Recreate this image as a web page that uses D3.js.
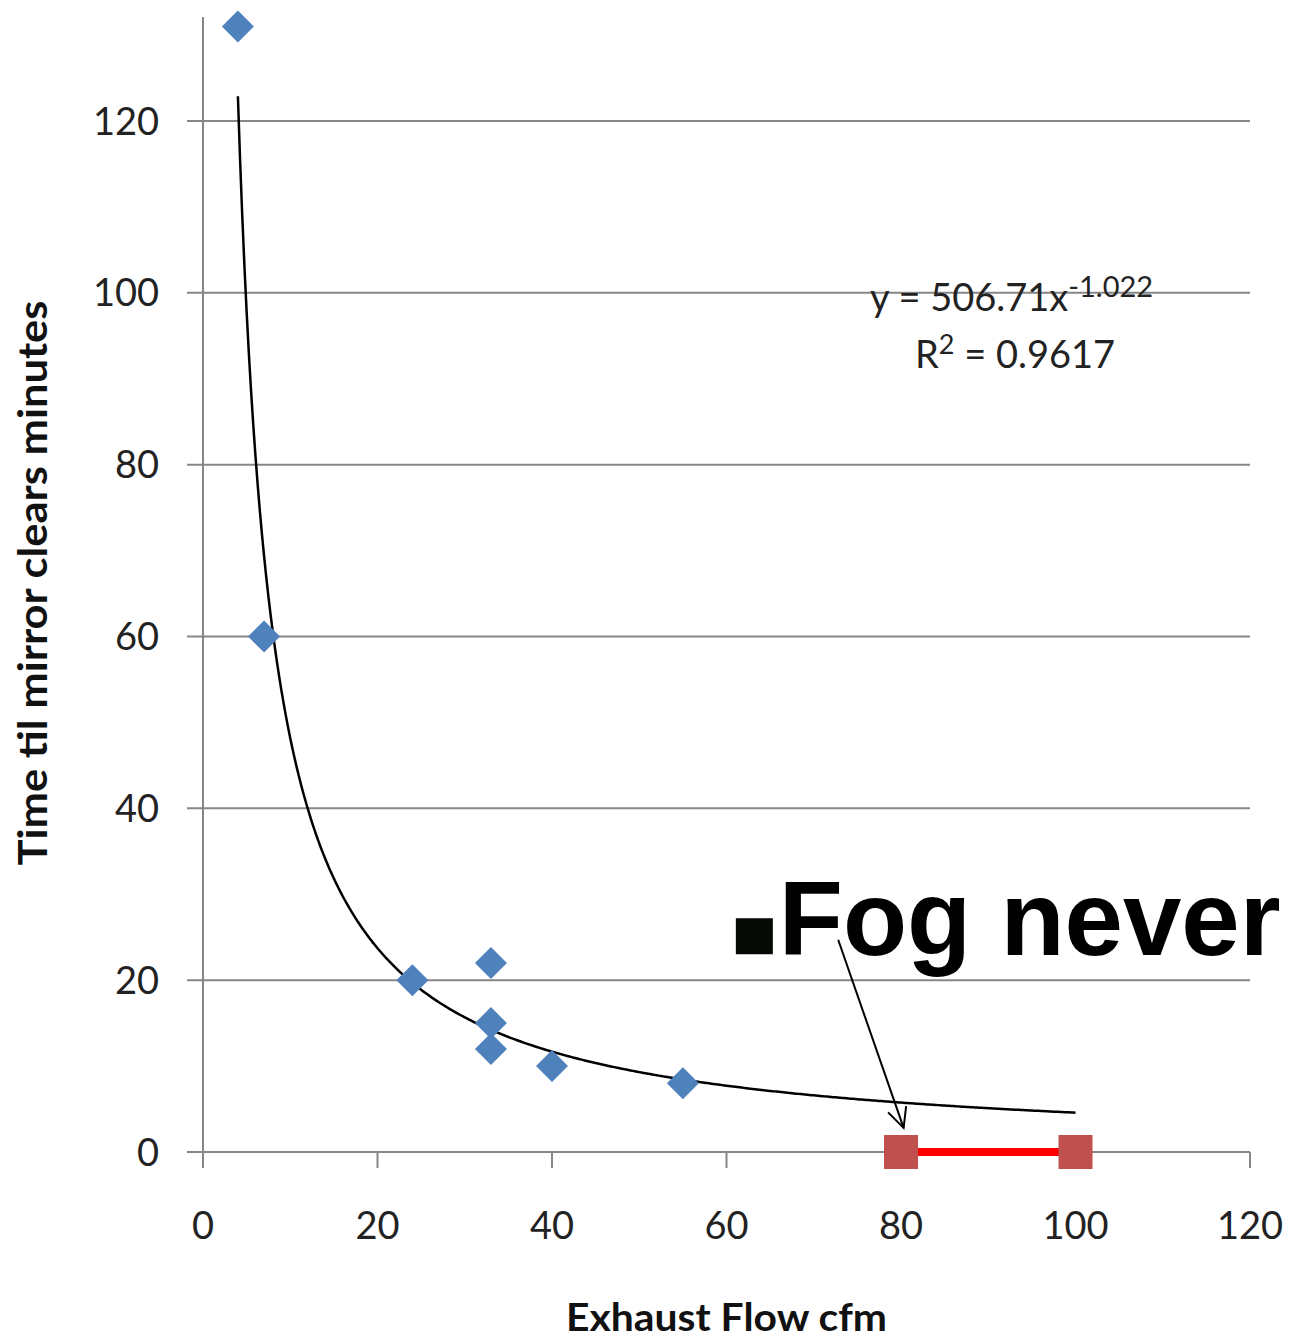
<!DOCTYPE html>
<html>
<head>
<meta charset="utf-8">
<script src="https://cdn.jsdelivr.net/npm/d3@7"></script>
<style>
  body { margin: 0; background: #fff; }
</style>
</head>
<body>
<div id="chart"></div>
<script>
// measured points: exhaust flow (cfm) vs. time until mirror clears (min)
const flow = [4, 7, 24, 33, 33, 33, 40, 55];
const clearTime = [131, 60, 20, 22, 15, 12, 10, 8];

// range where fog never forms
const neverFlow = [80, 100];
const neverTime = [0, 0];

// power trendline as shown on the chart
const trendA = 506.71;
const trendB = -1.022;
const trendR2 = 0.9617;
const trendFrom = 4, trendTo = 100;

const xTicks = [0, 20, 40, 60, 80, 100, 120];
const yTicks = [0, 20, 40, 60, 80, 100, 120];

const width = 1289, height = 1338;
const margin = {top: 17, right: 39, bottom: 186, left: 203};
const labelFont = "Lato, 'Open Sans', sans-serif";

const svg = d3.select("#chart").append("svg")
    .attr("width", width)
    .attr("height", height)
    .attr("font-family", labelFont);

const x = d3.scaleLinear()
    .domain([0, 120])
    .range([margin.left, width - margin.right]);

const y = d3.scaleLinear()
    .domain([0, 132.1])
    .range([height - margin.bottom, margin.top]);

const gridColor = "#868686";

// horizontal gridlines (with the little outside tick)
svg.append("g")
    .selectAll("line")
    .data(yTicks)
    .join("line")
    .attr("x1", x(0) - 16)
    .attr("x2", x(120))
    .attr("y1", d => y(d))
    .attr("y2", d => y(d))
    .attr("stroke", gridColor)
    .attr("stroke-width", 2);

// y axis line
svg.append("line")
    .attr("x1", x(0)).attr("x2", x(0))
    .attr("y1", y(132.1)).attr("y2", y(0) + 16)
    .attr("stroke", gridColor)
    .attr("stroke-width", 2);

// x ticks
svg.append("g")
    .selectAll("line")
    .data(xTicks)
    .join("line")
    .attr("x1", d => x(d)).attr("x2", d => x(d))
    .attr("y1", y(0)).attr("y2", y(0) + 16)
    .attr("stroke", gridColor)
    .attr("stroke-width", 2);

// tick labels
svg.append("g")
    .selectAll("text")
    .data(yTicks)
    .join("text")
    .attr("x", x(0) - 44)
    .attr("y", d => y(d))
    .attr("dy", "0.36em")
    .attr("text-anchor", "end")
    .attr("font-size", 38)
    .attr("fill", "#222")
    .text(d => d);

svg.append("g")
    .selectAll("text")
    .data(xTicks)
    .join("text")
    .attr("x", d => x(d))
    .attr("y", y(0) + 73)
    .attr("dy", "0.36em")
    .attr("text-anchor", "middle")
    .attr("font-size", 38)
    .attr("fill", "#222")
    .text(d => d);

// axis titles
svg.append("text")
    .attr("x", (x(0) + x(120)) / 2)
    .attr("y", 1331)
    .attr("text-anchor", "middle")
    .attr("font-size", 39)
    .attr("font-weight", "bold")
    .attr("fill", "#111")
    .attr("textLength", 321)
    .attr("lengthAdjust", "spacingAndGlyphs")
    .text("Exhaust Flow cfm");

svg.append("text")
    .attr("transform", "translate(47," + 583 + ") rotate(-90)")
    .attr("text-anchor", "middle")
    .attr("font-size", 40)
    .attr("font-weight", "bold")
    .attr("fill", "#111")
    .attr("textLength", 565)
    .attr("lengthAdjust", "spacingAndGlyphs")
    .text("Time til mirror clears minutes");

// trendline
const trendPts = d3.range(trendFrom, trendTo + 0.001, 0.25).map(f => [f, trendA * Math.pow(f, trendB)]);
svg.append("path")
    .attr("d", d3.line().x(d => x(d[0])).y(d => y(d[1]))(trendPts))
    .attr("fill", "none")
    .attr("stroke", "#000")
    .attr("stroke-width", 2.5);

// equation label
const eq = svg.append("text")
    .attr("x", 870)
    .attr("y", y(100) + 18)
    .attr("font-size", 38)
    .attr("fill", "#222");
eq.append("tspan").text("y = " + trendA + "x");
eq.append("tspan").attr("font-size", 29).attr("dy", -14).text(trendB);

const r2 = svg.append("text")
    .attr("x", 1015)
    .attr("y", y(100) + 75)
    .attr("text-anchor", "middle")
    .attr("font-size", 38)
    .attr("fill", "#222");
r2.append("tspan").text("R");
r2.append("tspan").attr("font-size", 27).attr("dy", -14).text("2");
r2.append("tspan").attr("dy", 14).text(" = " + trendR2);

// red "never" line and squares
svg.append("line")
    .attr("x1", x(neverFlow[0])).attr("x2", x(neverFlow[1]))
    .attr("y1", y(neverTime[0])).attr("y2", y(neverTime[1]))
    .attr("stroke", "#ff0000")
    .attr("stroke-width", 8);

const sq = 34;
svg.append("g")
    .selectAll("rect")
    .data(neverFlow.map((f, i) => [f, neverTime[i]]))
    .join("rect")
    .attr("x", d => x(d[0]) - sq / 2)
    .attr("y", d => y(d[1]) - sq / 2)
    .attr("width", sq)
    .attr("height", sq)
    .attr("fill", "#c0504d");

// blue diamonds
const dia = 16;
svg.append("g")
    .selectAll("path")
    .data(flow.map((f, i) => [f, clearTime[i]]))
    .join("path")
    .attr("transform", d => "translate(" + x(d[0]) + "," + y(d[1]) + ")")
    .attr("d", `M0,${-dia}L${dia},0L0,${dia}L${-dia},0Z`)
    .attr("fill", "#4f81bd");

// "Fog never" annotation
const noteX = 66, noteY = 22.9;
svg.append("rect")
    .attr("x", x(noteX) - 43)
    .attr("y", y(noteY) - 37)
    .attr("width", 37)
    .attr("height", 36)
    .attr("fill", "#050a05");

svg.append("text")
    .attr("x", x(noteX))
    .attr("y", y(noteY))
    .style("font-family", "'Liberation Sans', Arial, sans-serif")
    .attr("font-weight", "bold")
    .attr("font-size", 105)
    .attr("fill", "#000")
    .text("Fog never");

// arrow from the note to the first red square
const a0 = [x(72.8), y(24.7)], a1 = [x(80.3), y(2.8)];
svg.append("line")
    .attr("x1", a0[0]).attr("y1", a0[1])
    .attr("x2", a1[0]).attr("y2", a1[1])
    .attr("stroke", "#000")
    .attr("stroke-width", 2);
const ang = Math.atan2(a1[1] - a0[1], a1[0] - a0[0]);
const headLen = 22, spread = 0.45;
svg.append("path")
    .attr("d", d3.line()([
        [a1[0] - headLen * Math.cos(ang - spread), a1[1] - headLen * Math.sin(ang - spread)],
        a1,
        [a1[0] - headLen * Math.cos(ang + spread), a1[1] - headLen * Math.sin(ang + spread)]
    ]))
    .attr("fill", "none")
    .attr("stroke", "#000")
    .attr("stroke-width", 2);
</script>
</body>
</html>
